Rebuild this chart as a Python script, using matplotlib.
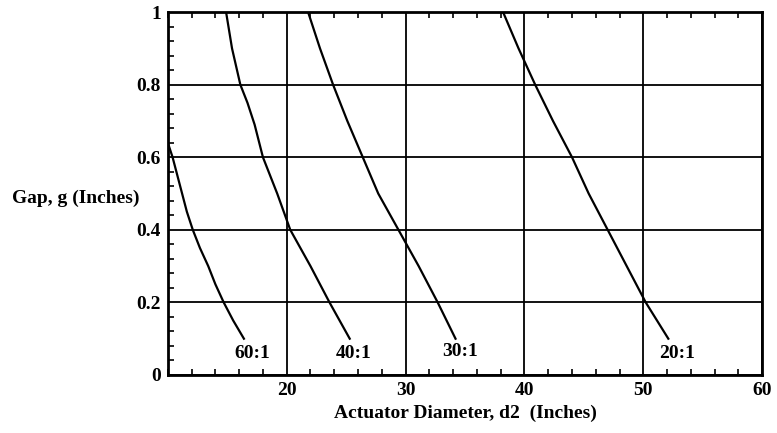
import matplotlib.pyplot as plt
from matplotlib.ticker import MultipleLocator

plt.rcParams['font.family'] = ['Liberation Serif', 'DejaVu Serif']
plt.rcParams['font.weight'] = 'bold'

# curves: actuator diameter (in) vs gap (in)
d_60 = [10.0, 10.4, 10.8, 11.2, 11.6, 12.1, 12.7, 13.4, 14.0, 14.7, 15.5, 16.4]
g_60 = [0.64, 0.60, 0.55, 0.50, 0.45, 0.40, 0.35, 0.30, 0.25, 0.20, 0.15, 0.10]

d_40 = [14.9, 15.4, 16.1, 16.7, 17.3, 18.0, 19.2, 20.3, 22.0, 23.6, 25.3]
g_40 = [1.00, 0.90, 0.80, 0.75, 0.69, 0.60, 0.50, 0.40, 0.30, 0.20, 0.10]

d_30 = [21.8, 22.8, 23.9, 25.1, 26.4, 27.7, 29.4, 31.1, 32.7, 34.2]
g_30 = [1.00, 0.90, 0.80, 0.70, 0.60, 0.50, 0.40, 0.30, 0.20, 0.10]

d_20 = [38.2, 39.5, 40.9, 42.4, 44.0, 45.4, 47.0, 48.6, 50.2, 52.1]
g_20 = [1.00, 0.90, 0.80, 0.70, 0.60, 0.50, 0.40, 0.30, 0.20, 0.10]

ratio_labels = ["60:1", "40:1", "30:1", "20:1"]
label_d = [17.1, 25.6, 34.6, 52.8]
label_g = [0.06, 0.06, 0.065, 0.06]

fig = plt.figure(figsize=(7.77, 4.33), dpi=100)
ax = fig.add_axes([0.216, 0.134, 0.765, 0.838])

ax.set_xlim(10, 60)
ax.set_ylim(0, 1)

ax.set_xticks([20, 30, 40, 50, 60])
ax.set_yticks([0, 0.2, 0.4, 0.6, 0.8, 1.0])
ax.set_yticklabels(["0", "0.2", "0.4", "0.6", "0.8", "1"])
ax.xaxis.set_minor_locator(MultipleLocator(2))
ax.yaxis.set_minor_locator(MultipleLocator(0.04))

ax.tick_params(which='major', length=0, labelsize=14, pad=5)
ax.tick_params(which='minor', direction='in', length=4, width=1.2,
               top=True, bottom=True, left=True, right=False)
ax.grid(True, which='major', color='black', linewidth=1.3)

for s in ax.spines.values():
    s.set_linewidth(2)

for d, g in [(d_60, g_60), (d_40, g_40), (d_30, g_30), (d_20, g_20)]:
    ax.plot(d, g, "-", color="black", linewidth=1.6)

for t, x, y in zip(ratio_labels, label_d, label_g):
    ax.text(x, y, t, ha="center", va="center", fontsize=14, fontweight="bold")

ax.set_xlabel("Actuator Diameter, d2  (Inches)", fontsize=14, fontweight="bold", labelpad=4)
fig.text(0.015, 0.542, "Gap, g (Inches)", fontsize=14, fontweight="bold",
         ha="left", va="center")

fig.savefig("out.png", dpi=100)
